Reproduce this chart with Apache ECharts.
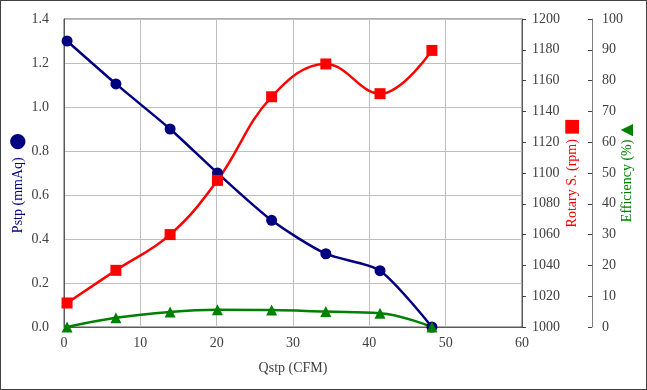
<!DOCTYPE html>
<html>
<head>
<meta charset="utf-8">
<script src="https://cdn.jsdelivr.net/npm/echarts@6/dist/echarts.min.js"></script>
<style>
html,body{margin:0;padding:0;background:#fff;}
#c{width:647px;height:390px;box-sizing:border-box;border:1px solid #404040;}
</style>
</head>
<body>
<div id="c"></div>
<script>
// Data
var qstp = [0.4, 6.8, 13.9, 20.1, 27.2, 34.3, 41.4, 48.2];
var pstp = [1.30, 1.105, 0.90, 0.70, 0.485, 0.333, 0.256, 0.0];
var rpm = [1015.6, 1036.8, 1060.0, 1095.2, 1149.5, 1170.8, 1151.5, 1179.6];
var eff = [0.0, 3.0, 4.9, 5.6, 5.5, 5.0, 4.5, 0.0];

function pairs(xs, ys){ return xs.map(function(x,i){ return [x, ys[i]]; }); }

var font = 'Liberation Serif';
var tickColor = '#404040';

var chart = echarts.init(document.getElementById('c'), null, {renderer:'canvas'});
chart.setOption({
  animation:false,
  backgroundColor:'#fff',
  grid:{left:63, right:124, top:18, bottom:62, show:true, borderColor:'#595959', borderWidth:1,
    containLabel:false, outerBoundsMode:'none'},
  xAxis:{
    type:'value', min:0, max:60, interval:10,
    axisLine:{show:true, lineStyle:{color:'#595959', width:1}},
    axisTick:{show:false},
    splitLine:{show:true, lineStyle:{color:'#bfbfbf', width:1}},
    axisLabel:{color:tickColor, fontFamily:font, fontSize:14, margin:9},
    name:'Qstp (CFM)', nameLocation:'middle', nameGap:34, nameMoveOverlap:false,
    nameTextStyle:{color:tickColor, fontFamily:font, fontSize:14}
  },
  yAxis:[
    {
      type:'value', min:0, max:1.4, interval:0.2, position:'left',
      axisLine:{show:true, lineStyle:{color:'#595959', width:1}},
      axisTick:{show:false},
      splitLine:{show:true, lineStyle:{color:'#bfbfbf', width:1}},
      axisLabel:{color:tickColor, fontFamily:font, fontSize:14, margin:15,
        formatter:function(v){return v.toFixed(1);}},
      name:'Pstp (mmAq)  {m|●}', nameLocation:'middle', nameRotate:90, nameGap:36, nameMoveOverlap:false,
      nameTextStyle:{color:'#000080', fontFamily:font, fontSize:14, padding:[0,0,0,-20],
        rich:{m:{color:'#000080', fontSize:20, fontFamily:'DejaVu Sans'}}}
    },
    {
      type:'value', min:1000, max:1200, interval:20, position:'right',
      axisLine:{show:true, lineStyle:{color:'#595959', width:1}},
      axisTick:{show:true, inside:false, length:4, lineStyle:{color:'#404040'}},
      splitLine:{show:false},
      axisLabel:{color:tickColor, fontFamily:font, fontSize:14, margin:10,
        formatter:function(v){return String(v);}},
      name:'Rotary S. (rpm) {m|■}', nameLocation:'middle', nameRotate:90, nameGap:41, nameMoveOverlap:false,
      nameTextStyle:{color:'#ff0000', fontFamily:font, fontSize:14,
        rich:{m:{color:'#ff0000', fontSize:18, fontFamily:'DejaVu Sans'}}}
    },
    {
      type:'value', min:0, max:100, interval:10, position:'right', offset:70,
      axisLine:{show:true, lineStyle:{color:'#808080', width:1}},
      axisTick:{show:true, inside:true, length:4, lineStyle:{color:'#404040'}},
      splitLine:{show:false},
      axisLabel:{color:tickColor, fontFamily:font, fontSize:14, margin:10},
      name:'Efficiency (%) {m|▲}', nameLocation:'middle', nameRotate:90, nameGap:27, nameMoveOverlap:false,
      nameTextStyle:{color:'#008000', fontFamily:font, fontSize:14,
        rich:{m:{color:'#008000', fontSize:16, fontFamily:'DejaVu Sans'}}}
    }
  ],
  series:[
    {
      type:'line', name:'Pstp', yAxisIndex:0, data:pairs(qstp, pstp),
      smooth:0.25, symbol:'circle', symbolSize:11,
      lineStyle:{color:'#000080', width:2.5}, itemStyle:{color:'#000080'}
    },
    {
      type:'line', name:'Rotary', yAxisIndex:1, data:pairs(qstp, rpm),
      smooth:0.4, symbol:'rect', symbolSize:11,
      lineStyle:{color:'#ff0000', width:2.5}, itemStyle:{color:'#ff0000'}
    },
    {
      type:'line', name:'Efficiency', yAxisIndex:2, data:pairs(qstp, eff),
      smooth:0.4, symbol:'triangle', symbolSize:11,
      lineStyle:{color:'#008000', width:2.5}, itemStyle:{color:'#008000'}
    }
  ]
});
</script>
</body>
</html>
